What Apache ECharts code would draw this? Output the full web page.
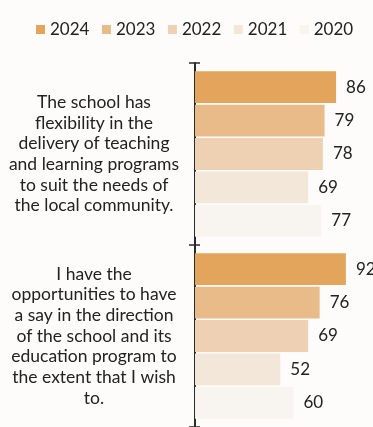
<!DOCTYPE html>
<html>
<head>
<meta charset="utf-8">
<script src="https://cdn.jsdelivr.net/npm/echarts@6/dist/echarts.min.js"></script>
<style>
  html, body { margin: 0; padding: 0; background: #fdfcfb; }
  #chart { width: 373px; height: 427px; }
</style>
</head>
<body>
<div id="chart"></div>
<script>
// Survey statements (category axis, top to bottom)
const statements = [
  'The school has\nflexibility in the\ndelivery of teaching\nand learning programs\nto suit the needs of\nthe local community.',
  'I have the\nopportunities to have\na say in the direction\nof the school and its\neducation program to\nthe extent that I wish\nto.'
];

// Years shown, newest first
const years = ['2024', '2023', '2022', '2021', '2020'];

// Agreement (%) per year, one value per statement
const values2024 = [86, 92];
const values2023 = [79, 76];
const values2022 = [78, 69];
const values2021 = [69, 52];
const values2020 = [77, 60];

const yearValues = [values2024, values2023, values2022, values2021, values2020];
const yearColors = ['#e3a55b', '#e9bb88', '#edd1b2', '#f3e7da', '#f8f4ef'];

const font = 'Lato, "Open Sans", sans-serif';
const textColor = '#222222';

const chart = echarts.init(document.getElementById('chart'), null, { renderer: 'canvas' });

const series = years.map((y, i) => ({
  name: y,
  type: 'bar',
  yAxisIndex: 0,
  data: yearValues[i],
  barCategoryGap: '9%',
  barGap: '5%',
  itemStyle: { color: yearColors[i] },
  label: {
    show: true,
    position: 'right',
    distance: 10,
    color: textColor,
    fontFamily: font,
    fontSize: 17
  },
  emphasis: { disabled: true },
  animation: false
}));

chart.setOption({
  animation: false,
  legend: {
    data: years,
    top: 16,
    left: 31,
    itemWidth: 9,
    itemHeight: 9,
    itemGap: 12.5,
    icon: 'rect',
    textStyle: { color: textColor, fontFamily: font, fontSize: 17 }
  },
  grid: { left: 195, top: 63, width: 164, height: 364 },
  xAxis: {
    type: 'value',
    min: 0,
    max: 100,
    show: false
  },
  yAxis: [
    {
      type: 'category',
      data: statements,
      inverse: true,
      position: 'left',
      axisLine: { show: true, lineStyle: { color: '#2b2b2b', width: 2 } },
      axisTick: { show: true, length: 6, lineStyle: { color: '#2b2b2b', width: 1.5 } },
      axisLabel: {
        margin: 101,
        align: 'center',
        color: textColor,
        fontFamily: font,
        fontSize: 17.5,
        lineHeight: 20.7
      }
    },
    {
      type: 'category',
      data: statements,
      inverse: true,
      position: 'left',
      axisLine: { show: false },
      axisTick: { show: true, inside: true, length: 5, lineStyle: { color: '#2b2b2b', width: 1.5 } },
      axisLabel: { show: false }
    }
  ],
  series: series
});
</script>
</body>
</html>
